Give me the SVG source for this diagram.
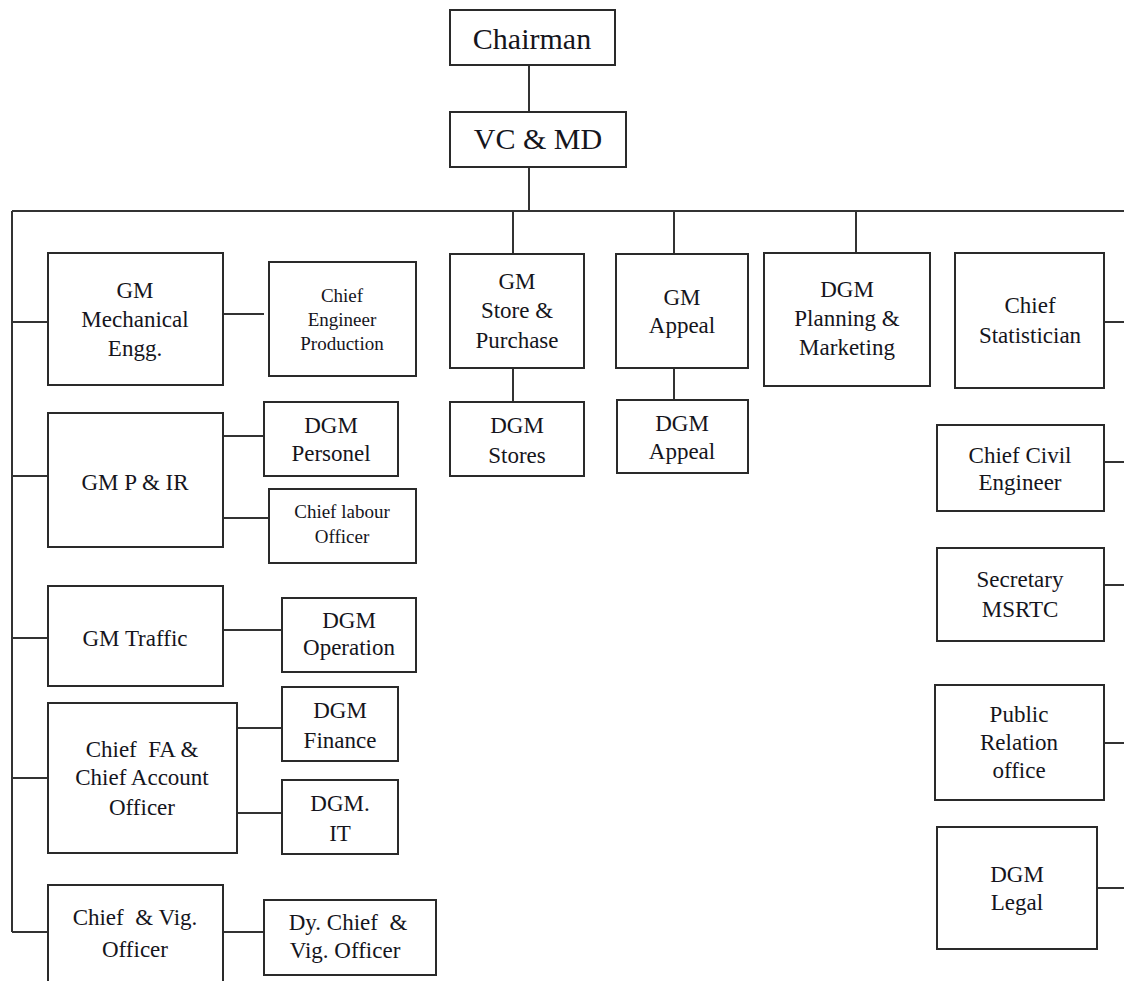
<svg xmlns="http://www.w3.org/2000/svg" width="1124" height="981" viewBox="0 0 1124 981">
<style>
.b{fill:#fff;stroke:#2a2a2a;stroke-width:2}
.c{fill:none;stroke:#333;stroke-width:2}
text{font-family:"Liberation Serif","Times New Roman",serif;fill:#15151c;text-anchor:middle;font-size:23px;white-space:pre}
.s{font-size:19px}
.L{font-size:30px}
</style>
<rect width="1124" height="981" fill="#fff"/>
<g id="connectors">
<path class="c" d="M529 65V112M529 167V211M12 211H1124M12 211V932"/>
<path class="c" d="M12 322H48M223 314H264M12 476H48M223 436H264M222 518H269M12 638H48M222 630H282M12 778H48M237 728H282M237 813H282M12 932H48"/>
<path class="c" d="M223 932H264" stroke="#777"/>
<path class="c" d="M513 211V254M513 368V402M674 211V254M674 368V400M856 211V253"/>
<path class="c" d="M1104 322H1124M1104 462H1124M1104 585H1124M1104 743H1124M1097 888H1124"/>
</g>
<g id="chairman"><rect class="b" x="450" y="10" width="165" height="55"/><text class="L" x="532" y="49">Chairman</text></g>
<g id="vcmd"><rect class="b" x="450" y="112" width="176" height="55"/><text class="L" x="538" y="149">VC &amp; MD</text></g>
<g id="gm-mech"><rect class="b" x="48" y="253" width="175" height="132"/><text x="135" y="298">GM</text><text x="135" y="327">Mechanical</text><text x="135" y="356">Engg.</text></g>
<g id="ce-prod"><rect class="b" x="269" y="262" width="147" height="114"/><text class="s" x="342" y="302">Chief</text><text class="s" x="342" y="326">Engineer</text><text class="s" x="342" y="350">Production</text></g>
<g id="gm-pir"><rect class="b" x="48" y="413" width="175" height="134"/><text x="135" y="490">GM P &amp; IR</text></g>
<g id="dgm-pers"><rect class="b" x="264" y="402" width="134" height="74"/><text x="331" y="433">DGM</text><text x="331" y="461">Personel</text></g>
<g id="clo"><rect class="b" x="269" y="489" width="147" height="74"/><text class="s" x="342" y="518">Chief labour</text><text class="s" x="342" y="543">Officer</text></g>
<g id="gm-traffic"><rect class="b" x="48" y="586" width="175" height="100"/><text x="135" y="646">GM Traffic</text></g>
<g id="dgm-op"><rect class="b" x="282" y="598" width="134" height="74"/><text x="349" y="628">DGM</text><text x="349" y="655">Operation</text></g>
<g id="chief-fa"><rect class="b" x="48" y="703" width="189" height="150"/><text x="142" y="757">Chief  FA &amp;</text><text x="142" y="785">Chief Account</text><text x="142" y="815">Officer</text></g>
<g id="dgm-fin"><rect class="b" x="282" y="687" width="116" height="74"/><text x="340" y="718">DGM</text><text x="340" y="748">Finance</text></g>
<g id="dgm-it"><rect class="b" x="282" y="780" width="116" height="74"/><text x="340" y="811">DGM.</text><text x="340" y="841">IT</text></g>
<g id="chief-vig"><rect class="b" x="48" y="885" width="175" height="110"/><text x="135" y="925">Chief  &amp; Vig.</text><text x="135" y="957">Officer</text></g>
<g id="dy-vig"><rect class="b" x="264" y="900" width="172" height="75"/><text x="348" y="930">Dy. Chief  &amp;</text><text x="345" y="958">Vig. Officer</text></g>
<g id="gm-store"><rect class="b" x="450" y="254" width="134" height="114"/><text x="517" y="289">GM</text><text x="517" y="318">Store &amp;</text><text x="517" y="348">Purchase</text></g>
<g id="dgm-stores"><rect class="b" x="450" y="402" width="134" height="74"/><text x="517" y="433">DGM</text><text x="517" y="463">Stores</text></g>
<g id="gm-appeal"><rect class="b" x="616" y="254" width="132" height="114"/><text x="682" y="305">GM</text><text x="682" y="333">Appeal</text></g>
<g id="dgm-appeal"><rect class="b" x="617" y="400" width="131" height="73"/><text x="682" y="431">DGM</text><text x="682" y="459">Appeal</text></g>
<g id="dgm-plan"><rect class="b" x="764" y="253" width="166" height="133"/><text x="847" y="297">DGM</text><text x="847" y="326">Planning &amp;</text><text x="847" y="355">Marketing</text></g>
<g id="chief-stat"><rect class="b" x="955" y="253" width="149" height="135"/><text x="1030" y="313">Chief</text><text x="1030" y="343">Statistician</text></g>
<g id="cce"><rect class="b" x="937" y="425" width="167" height="86"/><text x="1020" y="463">Chief Civil</text><text x="1020" y="490">Engineer</text></g>
<g id="sec"><rect class="b" x="937" y="548" width="167" height="93"/><text x="1020" y="587">Secretary</text><text x="1020" y="617">MSRTC</text></g>
<g id="pro"><rect class="b" x="935" y="685" width="169" height="115"/><text x="1019" y="722">Public</text><text x="1019" y="750">Relation</text><text x="1019" y="778">office</text></g>
<g id="dgm-legal"><rect class="b" x="937" y="827" width="160" height="122"/><text x="1017" y="882">DGM</text><text x="1017" y="910">Legal</text></g>
</svg>
